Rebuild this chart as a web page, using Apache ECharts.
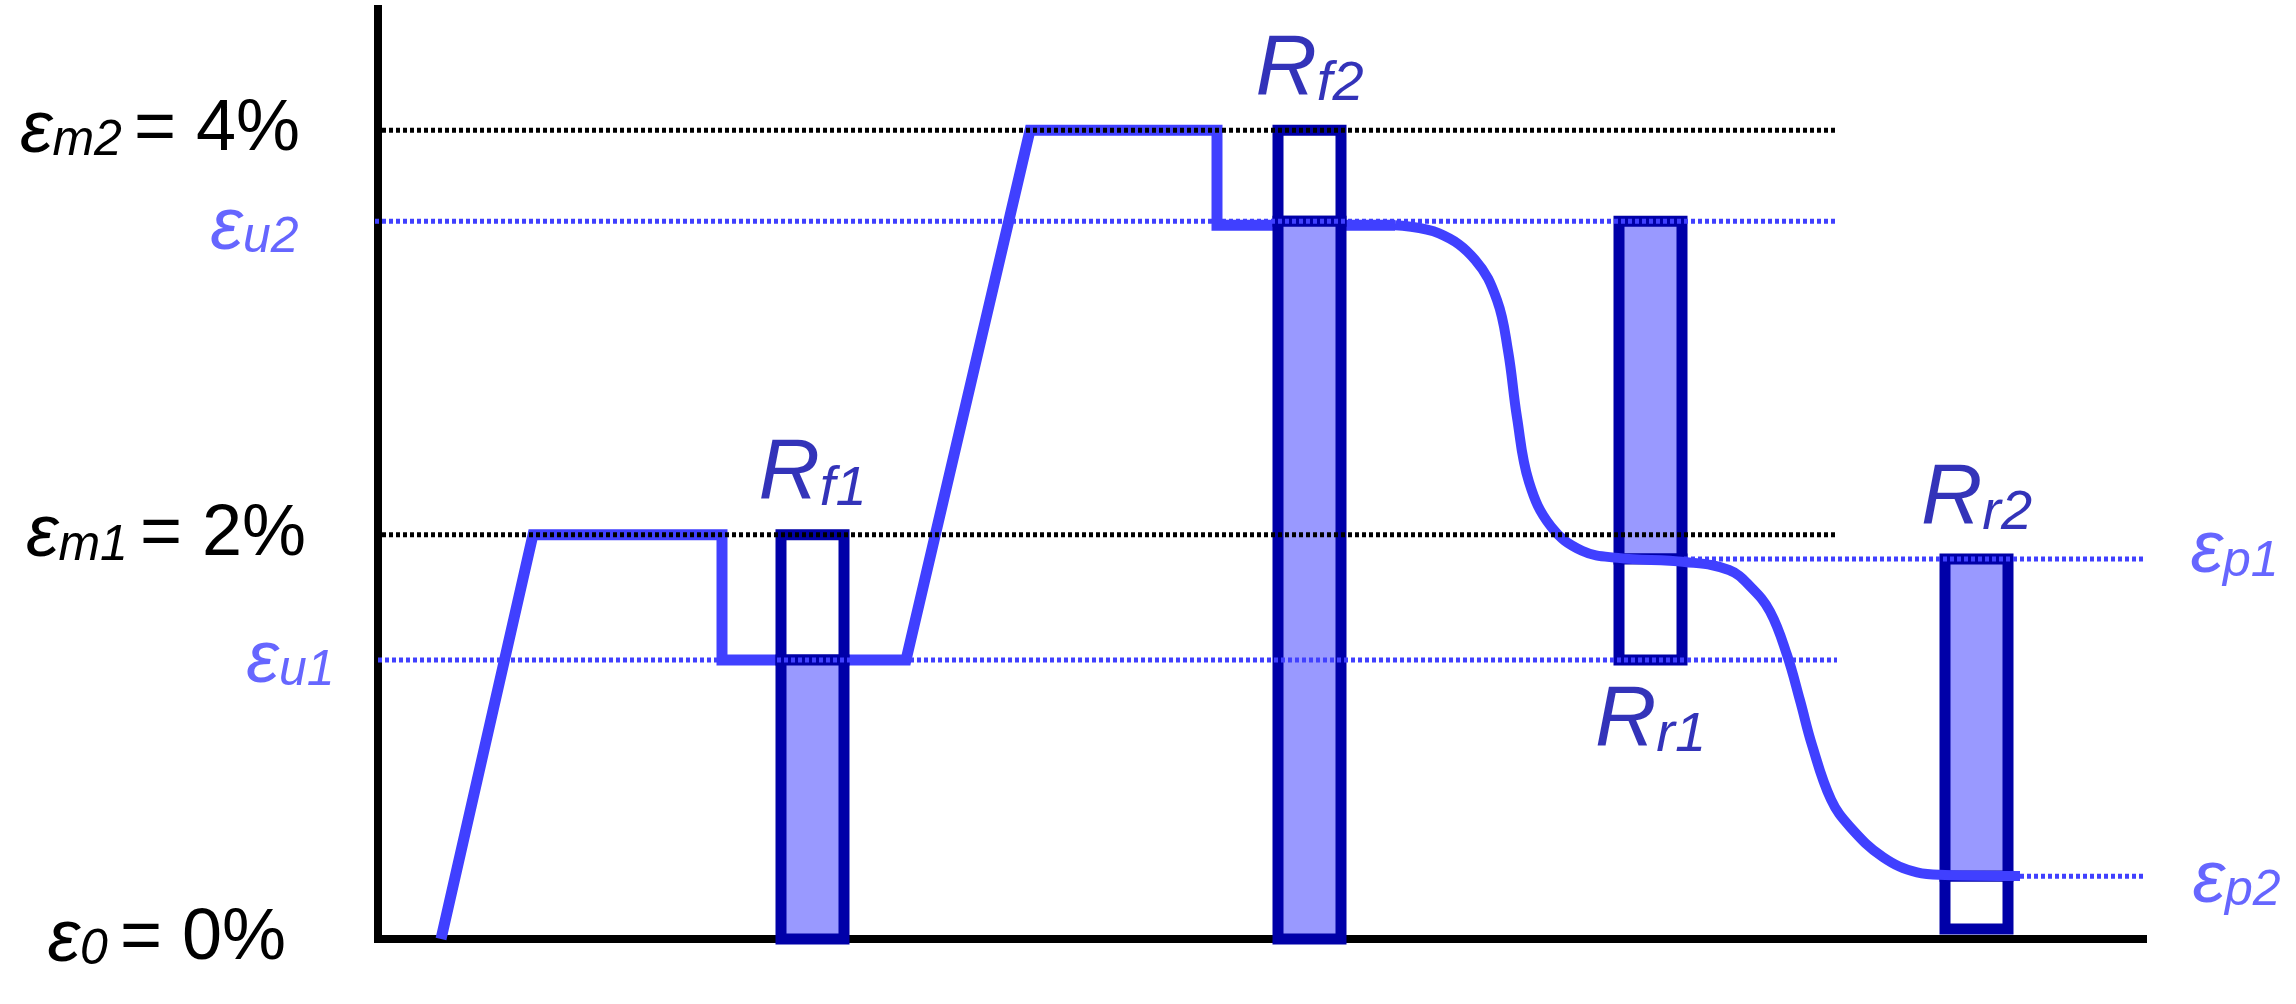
<!DOCTYPE html>
<html>
<head>
<meta charset="utf-8">
<title>Strain recovery</title>
<script src="https://cdn.jsdelivr.net/npm/echarts@6/dist/echarts.min.js"></script>
<style>
  html, body { margin: 0; padding: 0; background: #fff; }
  #main { width: 2296px; height: 1004px; }
</style>
</head>
<body>
<div id="main"></div>
<script>
// strain levels (%)
const E_M2 = 4, E_M1 = 2, E_0 = 0
const E_U2 = 3.55, E_U1 = 1.38
const E_P1 = 1.88, E_P2 = 0.31

// y tick labels: value and subscript of ε
const yTicks = [E_0, E_M1, E_M2]
const yTickSubs = ['0', 'm1', 'm2']

// loading / holding / unloading path (time, strain)
const loadT = [6.3, 15.5, 34.4, 34.4, 52.8, 65.2, 83.9, 83.9, 101.7]
const loadE = [0, 2, 2, 1.38, 1.38, 4, 4, 3.53, 3.53]

// recovery curve
const recT = [101.7, 106.1, 109.7, 111.9, 113.0, 113.9, 115.1, 117.3, 120.4, 124.0, 130.7,
  135.1, 137.3, 139.2, 140.9, 142.2, 143.4, 145.3, 147.2, 150.5, 153.9, 156.7, 164.2]
const recE = [3.53, 3.49, 3.36, 3.16, 2.91, 2.58, 2.26, 2.04, 1.92, 1.885, 1.865,
  1.825, 1.74, 1.62, 1.405, 1.18, 0.96, 0.69, 0.555, 0.405, 0.33, 0.317, 0.312]

// ratio bars R_f1, R_f2, R_r1, R_r2
const barSubs = ['f1', 'f2', 'r1', 'r2']
const barT = [43.45, 93.15, 127.25, 159.85]
const barTop = [E_M1, E_M2, E_U2, E_P1]
const barMid = [E_U1, E_U2, E_P1, E_P2]
const barBottom = [0, 0, E_U1, 0.05]
const barUpperFilled = [0, 0, 1, 1]

// dotted guide lines
const guideE = [E_M2, E_U2, E_M1, E_U1, E_0, E_P1, E_P2]
const guideFrom = [-5.9, -5.9, -5.9, 0, -5.9, 130.6, 164.2]
const guideTo = [145.9, 145.9, 145.9, 145.9, 0, 177.2, 177.2]
const guideBlack = [1, 0, 1, 0, 1, 0, 0]

const blue = '#4040ff'
const dark = '#0000a8'
const fillBlue = '#9999ff'
const font = '"Liberation Sans", Arial, sans-serif'
const BAR_W = 6.3

function epsRich (color) {
  const valStyle = (padRight) => ({
    fontFamily: font, fontSize: 72, lineHeight: 72, verticalAlign: 'top', padding: [0, padRight, 0, 20], color: color
  })
  return {
    e: { fontFamily: font, fontStyle: 'italic', fontSize: 74, lineHeight: 72, verticalAlign: 'top', color: color },
    s: { fontFamily: font, fontStyle: 'italic', fontSize: 50, lineHeight: 38, padding: [40, 0, 0, 0], verticalAlign: 'bottom', color: color },
    eq: { fontFamily: font, fontSize: 72, lineHeight: 72, verticalAlign: 'top', padding: [0, 0, 0, 12], color: color },
    v0: valStyle(20),
    v2: valStyle(0),
    v4: valStyle(6)
  }
}

const rRich = {
  R: { fontFamily: font, fontStyle: 'italic', fontSize: 85, lineHeight: 85, verticalAlign: 'top', color: dark },
  s: { fontFamily: font, fontStyle: 'italic', fontSize: 56, lineHeight: 40, padding: [52, 0, 0, 0], verticalAlign: 'bottom', color: dark }
}

const myChart = echarts.init(document.getElementById('main'))

const guideSeries = guideE.map((e, i) => ({
  type: 'line',
  data: [[guideFrom[i], e], [guideTo[i], e]],
  symbol: 'none',
  clip: false,
  silent: true,
  z: 5,
  lineStyle: { color: guideBlack[i] ? '#000' : blue, width: 5, type: [4, 3], cap: 'butt' }
}))

// blue ε labels next to the guide lines
const sideLabels = [
  { value: [guideFrom[1], E_U2], sub: 'u2', position: 'left', distance: 20, dy: 6 },
  { value: [guideFrom[3], E_U1], sub: 'u1', position: 'left', distance: 43, dy: 0 },
  { value: [guideTo[5], E_P1], sub: 'p1', position: 'right', distance: 40, dy: -8 },
  { value: [guideTo[6], E_P2], sub: 'p2', position: 'right', distance: 42, dy: 4 }
]

const option = {
  animation: false,
  grid: { left: 378, right: 153, top: 9, bottom: 65, outerBoundsMode: 'none' },
  xAxis: {
    type: 'value',
    min: 0,
    max: 176.5,
    axisLine: { onZero: true, lineStyle: { color: '#000', width: 8, cap: 'square' } },
    axisTick: { show: false },
    axisLabel: { show: false },
    splitLine: { show: false }
  },
  yAxis: {
    type: 'value',
    min: 0,
    max: 4.6,
    interval: 2,
    axisLine: { show: true, lineStyle: { color: '#000', width: 8, cap: 'square' } },
    axisTick: { show: false },
    splitLine: { show: false },
    axisLabel: {
      margin: 72,
      formatter: function (v) {
        const k = yTicks.indexOf(v)
        if (k < 0) return ''
        return '{e|ε}{s|' + yTickSubs[k] + '}{eq|=}{v' + v + '|' + v + '%}'
      },
      rich: epsRich('#000')
    }
  },
  series: [
    {
      name: 'load',
      type: 'line',
      z: 2,
      data: loadT.map((t, i) => [t, loadE[i]]),
      symbol: 'none',
      silent: true,
      lineStyle: { color: blue, width: 11, join: 'miter', cap: 'butt' }
    },
    {
      name: 'bars',
      type: 'custom',
      z: 3,
      silent: true,
      data: barT.map((t, i) => [t, barTop[i], barMid[i], barBottom[i], barUpperFilled[i]]),
      renderItem: function (params, api) {
        const t = api.value(0)
        const top = api.coord([t, api.value(1)])
        const mid = api.coord([t, api.value(2)])
        const bot = api.coord([t, api.value(3)])
        const w = api.size([BAR_W, 0])[0]
        const upper = api.value(4) === 1
        const x = top[0] - w / 2
        return {
          type: 'group',
          children: [
            {
              type: 'rect',
              shape: { x: x, y: top[1], width: w, height: mid[1] - top[1] },
              style: { fill: upper ? fillBlue : '#fff', stroke: dark, lineWidth: 11 }
            },
            {
              type: 'rect',
              shape: { x: x, y: mid[1], width: w, height: bot[1] - mid[1] },
              style: { fill: upper ? '#fff' : fillBlue, stroke: dark, lineWidth: 11 }
            }
          ]
        }
      }
    },
    {
      name: 'recovery',
      type: 'line',
      z: 4,
      data: recT.map((t, i) => [t, recE[i]]),
      symbol: 'none',
      smooth: 0.4,
      silent: true,
      lineStyle: { color: blue, width: 10, cap: 'butt' }
    },
    ...guideSeries,
    {
      name: 'barLabels',
      type: 'scatter',
      z: 6,
      silent: true,
      clip: false,
      symbolSize: 1,
      itemStyle: { color: 'rgba(0,0,0,0)' },
      data: barSubs.map((sub, i) => {
        const below = sub === 'r1'
        return {
          value: [barT[i], below ? barBottom[i] : barTop[i]],
          label: {
            show: true,
            position: below ? 'bottom' : 'top',
            distance: below ? 18 : 17,
            formatter: '{R|R}{s|' + sub + '}',
            rich: rRich
          }
        }
      })
    },
    {
      name: 'sideLabels',
      type: 'scatter',
      z: 6,
      silent: true,
      clip: false,
      symbolSize: 1,
      itemStyle: { color: 'rgba(0,0,0,0)' },
      data: sideLabels.map(d => ({
        value: d.value,
        label: {
          show: true,
          position: d.position,
          distance: d.distance,
          offset: [0, d.dy],
          formatter: '{e|ε}{s|' + d.sub + '}',
          rich: epsRich(blue)
        }
      }))
    }
  ]
}

myChart.setOption(option)
</script>
</body>
</html>
